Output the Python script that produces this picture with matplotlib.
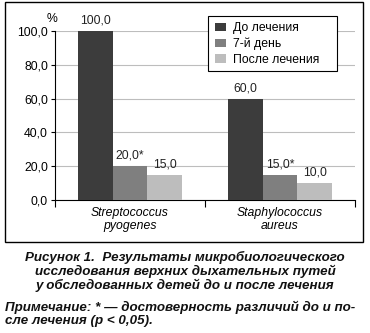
import matplotlib
matplotlib.use("Agg")
import matplotlib.pyplot as plt
from matplotlib.patches import Rectangle
import numpy as np

plt.rcParams['font.family'] = ['Liberation Sans', 'DejaVu Sans']

categories = ["Streptococcus\npyogenes", "Staphylococcus\naureus"]
series_names = ["До лечения", "7-й день", "После лечения"]
before = [100.0, 60.0]
day7 = [20.0, 15.0]
after = [15.0, 10.0]
day7_marks = ["*", "*"]
yticks = [0, 20, 40, 60, 80, 100]

colors = ["#3c3c3c", "#7f7f7f", "#bdbdbd"]
fs = 8.8

fig = plt.figure(figsize=(3.70, 3.33), dpi=100)
ax = fig.add_axes([55/370, 1 - 200/333, 300/370, 169/333])

x = np.arange(len(categories))
w = 0.233
series = [before, day7, after]
for i, (vals, c, name) in enumerate(zip(series, colors, series_names)):
    pos = x + (i - 1) * w
    ax.bar(pos, vals, width=w, color=c, label=name, zorder=3)
    for j, (p, v) in enumerate(zip(pos, vals)):
        txt = f"{v:.1f}".replace(".", ",")
        if i == 1:
            txt += day7_marks[j]
        ax.text(p, v + 2.5, txt, ha="center", va="bottom", fontsize=fs,
                color="#222222", clip_on=False, zorder=4)

ax.set_xlim(-0.5, 1.5)
ax.set_ylim(0, 100)
ax.set_yticks(yticks)
ax.set_yticklabels([f"{t:.1f}".replace(".", ",") for t in yticks], fontsize=fs)
ax.yaxis.grid(True, color="#bdbdbd", linewidth=0.8, zorder=0)
ax.set_axisbelow(True)

ax.set_xticks(x)
ax.set_xticklabels(categories, fontsize=fs, style="italic", linespacing=1.1)
ax.set_xticks([-0.5, 0.5, 1.5], minor=True)
ax.tick_params(axis="x", which="major", length=0, pad=5)
ax.tick_params(axis="x", which="minor", length=5, width=0.8, direction="out")
ax.tick_params(axis="y", length=3, width=0.8, pad=2)

for s in ["top", "right"]:
    ax.spines[s].set_visible(False)
ax.spines["left"].set_linewidth(0.8)
ax.spines["bottom"].set_linewidth(0.8)

ax.text(-0.01, 1.035, "%", transform=ax.transAxes, ha="center", va="bottom", fontsize=fs)

# legend entries without their own frame; the box is drawn separately
leg = ax.legend(loc="upper left", bbox_to_anchor=(215/370, 1 - 22/333),
                bbox_transform=fig.transFigure, fontsize=fs, frameon=False,
                handlelength=0.9, handleheight=0.65,
                handletextpad=0.55, borderpad=0, labelspacing=0.3, borderaxespad=0)
leg.set_zorder(6)
legend_box = Rectangle((208/370, 1 - 71/333), 128.5/370, 55.5/333,
                       transform=fig.transFigure, facecolor="white",
                       edgecolor="black", linewidth=0.8, zorder=5.5, clip_on=False)
ax.add_artist(legend_box)

fig.patches.append(Rectangle((5/370, 1 - 242/333), 358/370, 240/333,
                             transform=fig.transFigure, fill=False,
                             edgecolor="black", linewidth=1.0))

caption = ("Рисунок 1.  Результаты микробиологического\n"
           "исследования верхних дыхательных путей\n"
           "у обследованных детей до и после лечения")
fig.text(185/370, 1 - 251/333, caption, ha="center", va="top", fontsize=9.6,
         weight="bold", style="italic", linespacing=1.05, color="#111111")

note = ("Примечание: * — достоверность различий до и по-\n"
        "сле лечения (р < 0,05).")
fig.text(5/370, 1 - 301/333, note, ha="left", va="top", fontsize=9.6,
         weight="bold", style="italic", linespacing=1.05, color="#111111")

fig.savefig("out.png", dpi=100)
